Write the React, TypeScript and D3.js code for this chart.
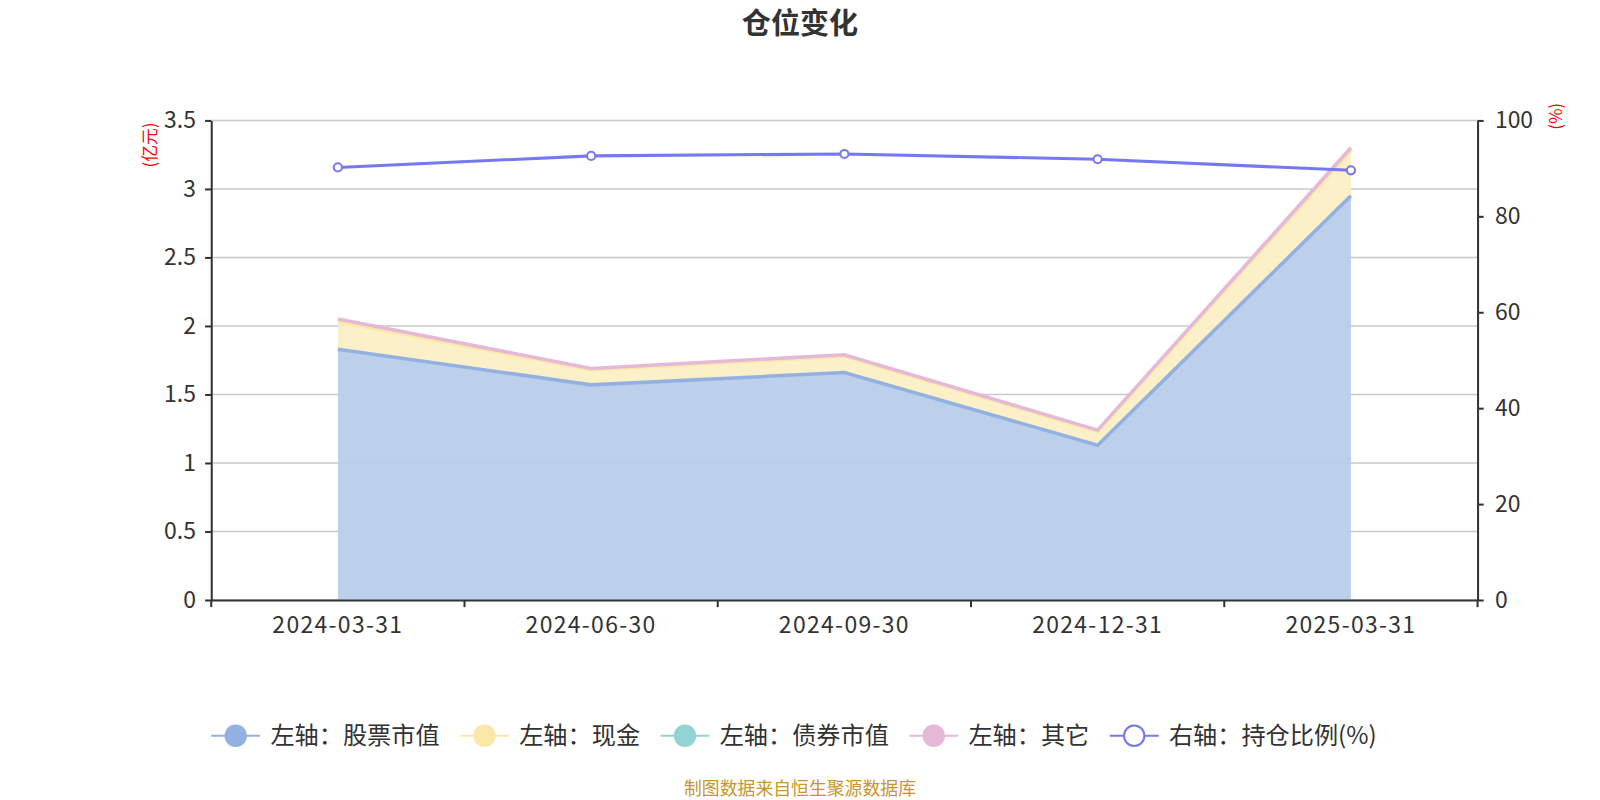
// @ts-nocheck
import { useEffect, useRef } from "react";
import * as d3 from "d3";

const categories = ["2024-03-31", "2024-06-30", "2024-09-30", "2024-12-31", "2025-03-31"];
const stockValues = [1.83, 1.57, 1.66, 1.13, 2.95];
const cashValues = [0.2, 0.11, 0.12, 0.1, 0.33];
const bondValues = [0, 0, 0, 0, 0];
const otherValues = [0.02, 0.01, 0.01, 0.01, 0.02];
const ratioValues = [90.2, 92.6, 93.0, 91.9, 89.6];

const leftTicks = [0, 0.5, 1, 1.5, 2, 2.5, 3, 3.5];
const rightTicks = [0, 20, 40, 60, 80, 100];

const layers = [
  { key: "stock", name: "左轴：股票市值", values: stockValues, line: "#93b1e0", fill: "#b8cdea" },
  { key: "cash", name: "左轴：现金", values: cashValues, line: "#f9e8a8", fill: "#fbefc4" },
  { key: "bond", name: "左轴：债券市值", values: bondValues, line: "#93d3d3", fill: "#bfe4e4" },
  { key: "other", name: "左轴：其它", values: otherValues, line: "#e6b8d8", fill: "#f0d3e6" },
];
const ratioColor = "#7679ee";

// drawing units (viewBox), scaled up to the 1600x800 page
const W = 1568;
const H = 784;
const margin = { left: 207, right: 120, top: 118, bottom: 196 };
const font = "'Noto Sans CJK SC', 'Noto Sans', sans-serif";

export default function App() {
  const ref = useRef(null);

  useEffect(() => {
    const svg = d3.select(ref.current);
    svg.selectAll("*").remove();

    const x0 = margin.left;
    const x1 = W - margin.right;
    const y0 = H - margin.bottom;
    const y1 = margin.top;

    const x = d3.scaleBand().domain(categories).range([x0, x1]);
    const cx = (c) => x(c) + x.bandwidth() / 2;
    const yL = d3.scaleLinear().domain([0, 3.5]).range([y0, y1]);
    const yR = d3.scaleLinear().domain([0, 100]).range([y0, y1]);

    // title
    svg.append("text").attr("x", 784).attr("y", 33).attr("text-anchor", "middle")
      .attr("font-family", font).attr("font-size", 28.5).attr("font-weight", "bold")
      .attr("fill", "#333").text("仓位变化");

    // grid
    svg.append("g").selectAll("line").data(leftTicks).join("line")
      .attr("x1", x0).attr("x2", x1).attr("y1", (d) => yL(d)).attr("y2", (d) => yL(d))
      .attr("stroke", "#c8c8c8").attr("stroke-width", 1.5);

    // stacked areas
    const rows = categories.map((c, i) => {
      const r = { cat: c };
      layers.forEach((l) => (r[l.key] = l.values[i]));
      return r;
    });
    const stack = d3.stack().keys(layers.map((l) => l.key))(rows);
    const area = d3.area().x((d) => cx(d.data.cat)).y0((d) => yL(d[0])).y1((d) => yL(d[1]));
    const line = d3.line().x((d) => cx(d.data.cat)).y((d) => yL(d[1]));

    stack.forEach((s, i) => {
      svg.append("path").attr("d", area(s)).attr("fill", layers[i].fill).attr("opacity", 0.95);
    });
    stack.forEach((s, i) => {
      if (layers[i].key === "bond") return;
      svg.append("path").attr("d", line(s)).attr("fill", "none")
        .attr("stroke", layers[i].line).attr("stroke-width", 3.5);
    });

    // ratio line
    const rline = d3.line().x((d, i) => cx(categories[i])).y((d) => yR(d));
    svg.append("path").attr("d", rline(ratioValues)).attr("fill", "none")
      .attr("stroke", ratioColor).attr("stroke-width", 3);
    svg.append("g").selectAll("circle").data(ratioValues).join("circle")
      .attr("cx", (d, i) => cx(categories[i])).attr("cy", (d) => yR(d)).attr("r", 4)
      .attr("fill", "#fff").attr("stroke", ratioColor).attr("stroke-width", 2);

    // axes
    const styleAxis = (g) => {
      g.selectAll("path").attr("stroke", "#333").attr("stroke-width", 2);
      g.selectAll("line").attr("stroke", "#333").attr("stroke-width", 2);
      g.selectAll("text").attr("font-family", font).attr("font-size", 22.5).attr("fill", "#333");
    };
    svg.append("g").attr("transform", `translate(${x0},0)`)
      .call(d3.axisLeft(yL).tickValues(leftTicks).tickSize(6).tickSizeOuter(0).tickPadding(9).tickFormat(d3.format("")))
      .call(styleAxis);
    svg.append("g").attr("transform", `translate(${x1},0)`)
      .call(d3.axisRight(yR).tickValues(rightTicks).tickSize(6).tickSizeOuter(0).tickPadding(11))
      .call(styleAxis);
    const gx = svg.append("g").attr("transform", `translate(0,${y0})`)
      .call(d3.axisBottom(x).tickSize(0).tickPadding(16))
      .call(styleAxis);
    gx.selectAll(".tick text").attr("letter-spacing", 1.3);
    const bounds = categories.map((c) => x(c)).concat([x1]);
    svg.append("g").selectAll("line").data(bounds).join("line")
      .attr("x1", (d) => d).attr("x2", (d) => d).attr("y1", y0).attr("y2", y0 + 7)
      .attr("stroke", "#333").attr("stroke-width", 2);

    // axis units
    svg.append("text").attr("transform", `translate(153,142) rotate(-90)`).attr("text-anchor", "middle")
      .attr("font-family", font).attr("font-size", 16.5).attr("fill", "red").text("(亿元)");
    svg.append("text").attr("transform", `translate(1531,114) rotate(-90)`).attr("text-anchor", "middle")
      .attr("font-family", font).attr("font-size", 16.5).attr("fill", "red").text("(%)");

    // legend
    const items = layers.map((l) => ({ name: l.name, color: l.line, hollow: false }))
      .concat([{ name: "右轴：持仓比例(%)", color: ratioColor, hollow: true }]);
    const lg = svg.append("g").attr("font-family", font).attr("font-size", 23.7);
    const ly = 721;
    let lx = 207;
    items.forEach((it) => {
      const g = lg.append("g").attr("transform", `translate(${lx},${ly})`);
      g.append("line").attr("x1", 0).attr("x2", 48).attr("stroke", it.color).attr("stroke-width", 2);
      g.append("circle").attr("cx", 24).attr("cy", 0).attr("r", it.hollow ? 10 : 11)
        .attr("fill", it.hollow ? "#fff" : it.color).attr("stroke", it.hollow ? it.color : "none").attr("stroke-width", 2);
      const t = g.append("text").attr("x", 58).attr("y", 8).attr("fill", "#333").text(it.name);
      const w = t.node().getComputedTextLength();
      lx += 58 + w + 20;
    });

    // footer
    svg.append("text").attr("x", 784).attr("y", 779).attr("text-anchor", "middle")
      .attr("font-family", font).attr("font-size", 17.5).attr("fill", "#c8962a").text("制图数据来自恒生聚源数据库");
  }, []);

  return (
    <svg ref={ref} width={1600} height={800} viewBox={`0 0 ${W} ${H}`}
      style={{ position: "absolute", left: 0, top: 0, background: "#fff" }} />
  );
}
